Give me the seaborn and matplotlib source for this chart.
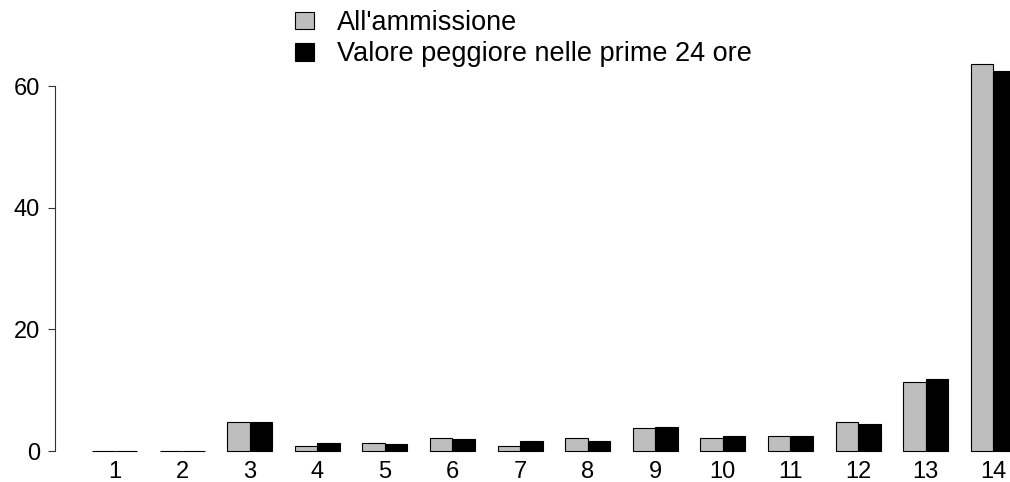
import pandas as pd
import matplotlib
matplotlib.use("Agg")
import matplotlib.pyplot as plt
import seaborn as sns
from matplotlib.patches import Patch

# dati
categorie = ['1', '2', '3', '4', '5', '6', '7', '8', '9', '10', '11', '12', '13', '14']
ammissione = [0, 0, 4.7, 0.8, 1.3, 2.1, 0.8, 2.1, 3.8, 2.1, 2.5, 4.7, 11.4, 63.6]
peggiore = [0, 0, 4.8, 1.3, 1.2, 2.0, 1.6, 1.6, 4.0, 2.4, 2.4, 4.4, 11.9, 62.5]
serie = ["All'ammissione", "Valore peggiore nelle prime 24 ore"]
colori = ['#BEBEBE', '#000000']

df = pd.DataFrame({
    'categoria': categorie * 2,
    'valore': ammissione + peggiore,
    'serie': [serie[0]] * len(categorie) + [serie[1]] * len(categorie),
})

sns.set_style('ticks')
plt.rcParams['font.family'] = ['Liberation Sans', 'DejaVu Sans']
plt.rcParams['text.color'] = 'black'

fig = plt.figure(figsize=(10.1, 4.82), dpi=100)
ax = fig.add_axes([0.0545, 0.0322, 0.9878, 0.8662])

sns.barplot(data=df, x='categoria', y='valore', hue='serie', order=categorie,
            hue_order=serie, palette=colori, width=2/3, gap=0,
            edgecolor='black', linewidth=0.8, errorbar=None, legend=False, ax=ax)

ax.set_xlim(-0.88, 13.88)
ax.set_ylim(-2.54, 66.1)
ax.set_yticks([0, 20, 40, 60])
ax.set_xlabel('')
ax.set_ylabel('')
for s in ['top', 'right', 'bottom']:
    ax.spines[s].set_visible(False)
ax.spines['left'].set_bounds(0, 60)
ax.spines['left'].set_color('#333333')
ax.spines['left'].set_linewidth(0.8)
ax.tick_params(axis='y', length=5, width=0.8, color='#333333', labelcolor='black',
               labelsize=17, pad=6)
ax.tick_params(axis='x', length=0, labelcolor='black', labelsize=17, pad=-4)

# legenda in alto
handles = [Patch(facecolor=c, edgecolor='black', linewidth=0.8) for c in colori]
fig.legend(handles, serie, loc='upper left', bbox_to_anchor=(295 / 1010, 1 - 10 / 482),
           frameon=False, fontsize=19.5, borderpad=0, borderaxespad=0, labelcolor='black',
           handlelength=0.7, handleheight=0.63, handletextpad=0.85, labelspacing=0.2)

fig.savefig('out.png', dpi=100)
